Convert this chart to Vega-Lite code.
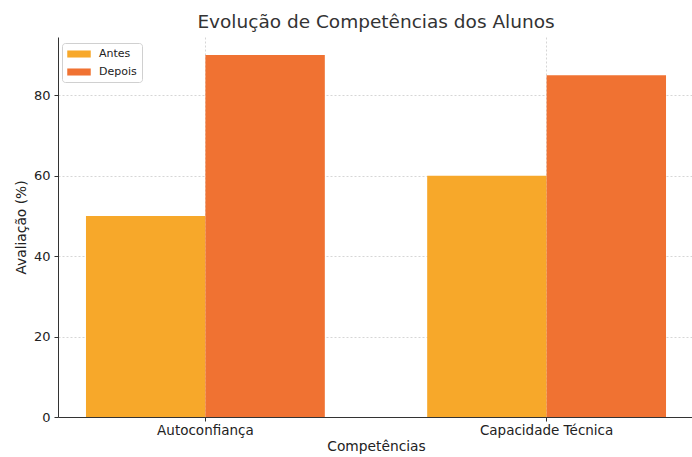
{
  "$schema": "https://vega.github.io/schema/vega-lite/v6.json",
  "width": 636,
  "height": 380,
  "autosize": {"type": "none"},
  "padding": {"left": 58, "top": 37, "right": 0, "bottom": 40},
  "background": "white",
  "config": {"font": "DejaVu Sans", "view": {"stroke": null}},
  "title": {"text": "Evolução de Competências dos Alunos", "fontSize": 18.5, "font": "DejaVu Sans", "fontWeight": "normal", "color": "#333333", "offset": 6, "anchor": "middle"},
  "data": {"values": [
    {"competencia": "Autoconfiança", "periodo": "Antes", "valor": 50},
    {"competencia": "Autoconfiança", "periodo": "Depois", "valor": 90},
    {"competencia": "Capacidade Técnica", "periodo": "Antes", "valor": 60},
    {"competencia": "Capacidade Técnica", "periodo": "Depois", "valor": 85}
  ]},
  "mark": {"type": "bar"},
  "encoding": {
    "x": {
      "field": "competencia", "type": "nominal",
      "sort": ["Autoconfiança", "Capacidade Técnica"],
      "scale": {"paddingInner": 0.3, "paddingOuter": 0.082},
      "axis": {
        "title": "Competências", "labelAngle": 0, "bandPosition": 0.5,
        "grid": true, "gridDash": [2, 2], "gridColor": "#cccccc", "gridWidth": 0.8,
        "domainColor": "#333333", "tickColor": "#333333", "tickSize": 4,
        "labelFontSize": 13.5, "labelColor": "#222222", "labelPadding": 2,
        "titleFontSize": 13.8, "titleFontWeight": "normal", "titleColor": "#222222", "titlePadding": 3
      }
    },
    "xOffset": {"field": "periodo", "type": "nominal", "sort": ["Antes", "Depois"]},
    "y": {
      "field": "valor", "type": "quantitative",
      "scale": {"domain": [0, 94.5], "nice": false, "zero": true},
      "axis": {
        "title": "Avaliação (%)", "values": [0, 20, 40, 60, 80],
        "grid": true, "gridDash": [2, 2], "gridColor": "#cccccc", "gridWidth": 0.8,
        "domainColor": "#333333", "tickColor": "#333333", "tickSize": 4,
        "labelFontSize": 13, "labelColor": "#222222", "labelPadding": 4,
        "titleFontSize": 13.8, "titleFontWeight": "normal", "titleColor": "#222222", "titlePadding": 5
      }
    },
    "color": {
      "field": "periodo", "type": "nominal", "sort": ["Antes", "Depois"],
      "scale": {"domain": ["Antes", "Depois"], "range": ["#F7A82A", "#F07232"]},
      "legend": {
        "title": null, "orient": "none", "legendX": 4, "legendY": 6,
        "fillColor": "white", "strokeColor": "#d0d0d0", "cornerRadius": 3, "padding": 5,
        "symbolType": "M-2,-0.6H2V0.6H-2Z", "symbolSize": 138, "symbolStrokeWidth": 0,
        "symbolOffset": 6,
        "labelFontSize": 11, "labelColor": "#222222", "rowPadding": 7, "labelOffset": 14
      }
    }
  }
}
